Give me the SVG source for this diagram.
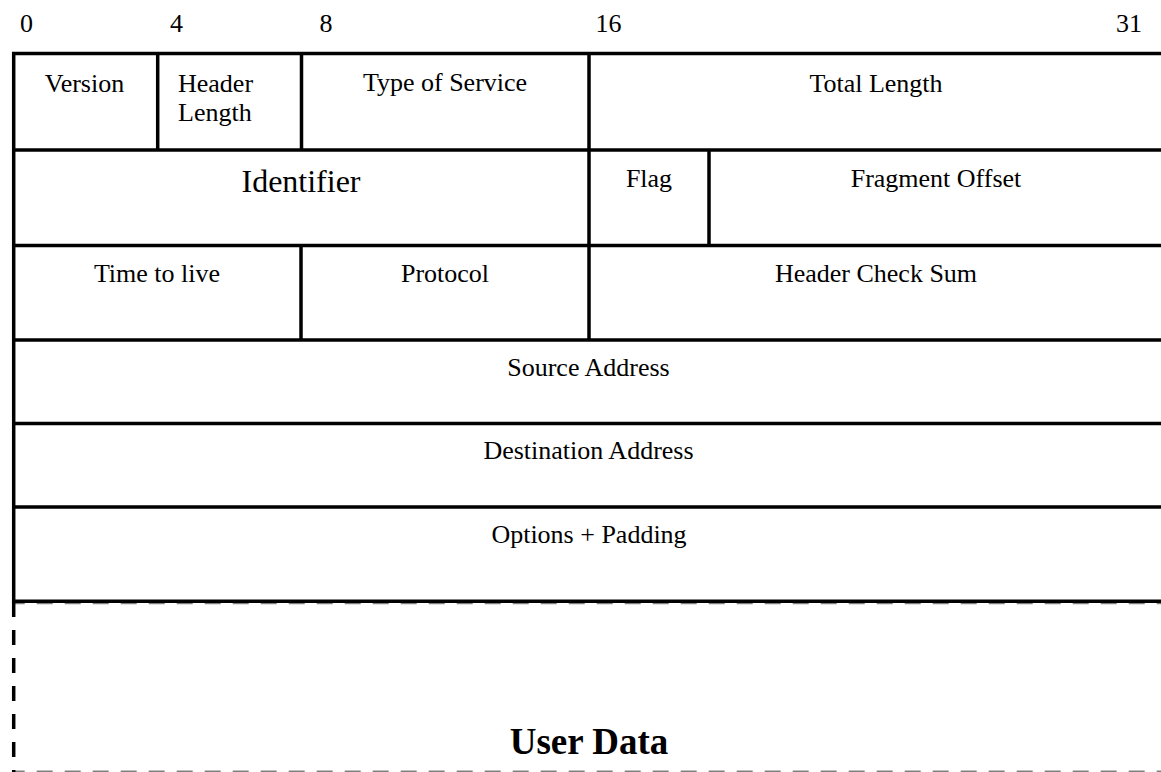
<svg xmlns="http://www.w3.org/2000/svg" width="1161" height="772" viewBox="0 0 1161 772">
<style>
text{font-family:"Liberation Serif","Times New Roman",serif;font-size:26px;fill:#000}
.c{text-anchor:middle}
.big{font-size:32px}
.ud{font-size:37px;font-weight:bold}
.ln{stroke:#000;stroke-width:3.5;fill:none}
.gd{stroke:#808080;stroke-width:1.6;fill:none;stroke-dasharray:16 12}
</style>
<rect width="1161" height="772" fill="#fff"/>
<g id="bit-scale">
<text x="20" y="31.7">0</text>
<text x="170" y="31.7">4</text>
<text x="319.5" y="31.7">8</text>
<text x="595.5" y="31.7">16</text>
<text x="1116" y="31.7">31</text>
</g>
<g id="grid">
<line class="gd" x1="13" y1="603.5" x2="1161" y2="603.5" stroke-dashoffset="4.3"/>
<line class="gd" x1="13" y1="771.3" x2="1161" y2="771.3" stroke-dashoffset="4.3"/>
<line class="ln" x1="12" y1="53.5" x2="1161" y2="53.5"/>
<line class="ln" x1="12" y1="150" x2="1161" y2="150"/>
<line class="ln" x1="12" y1="245.5" x2="1161" y2="245.5"/>
<line class="ln" x1="12" y1="340" x2="1161" y2="340"/>
<line class="ln" x1="12" y1="423.5" x2="1161" y2="423.5"/>
<line class="ln" x1="12" y1="507" x2="1161" y2="507"/>
<line class="ln" x1="12" y1="601.3" x2="1161" y2="601.3"/>
<line class="ln" x1="13.7" y1="52" x2="13.7" y2="603"/>
<line class="ln" x1="13.7" y1="602" x2="13.7" y2="772" stroke-dasharray="15 13"/>
<line class="ln" x1="157.7" y1="53" x2="157.7" y2="150"/>
<line class="ln" x1="301.5" y1="53" x2="301.5" y2="150"/>
<line class="ln" x1="589" y1="53" x2="589" y2="340"/>
<line class="ln" x1="709" y1="150" x2="709" y2="245.5"/>
<line class="ln" x1="301" y1="245.5" x2="301" y2="340"/>
</g>
<g id="version"><text class="c" x="84.5" y="91.7">Version</text></g>
<g id="header-length"><text x="178" y="91.7">Header</text><text x="178" y="120.5">Length</text></g>
<g id="type-of-service"><text class="c" x="445" y="91">Type of Service</text></g>
<g id="total-length"><text class="c" x="876" y="91.7">Total Length</text></g>
<g id="identifier"><text class="c big" x="301" y="192.3">Identifier</text></g>
<g id="flag"><text class="c" x="649" y="186.7">Flag</text></g>
<g id="fragment-offset"><text class="c" x="936" y="186.7">Fragment Offset</text></g>
<g id="time-to-live"><text class="c" x="157" y="282.3">Time to live</text></g>
<g id="protocol"><text class="c" x="445" y="282.3">Protocol</text></g>
<g id="header-check-sum"><text class="c" x="876" y="282.3">Header Check Sum</text></g>
<g id="source-address"><text class="c" x="588.5" y="375.7">Source Address</text></g>
<g id="destination-address"><text class="c" x="588.5" y="459.3">Destination Address</text></g>
<g id="options-padding"><text class="c" x="589" y="543.3">Options + Padding</text></g>
<g id="user-data"><text class="c ud" x="589" y="754">User Data</text></g>
</svg>
